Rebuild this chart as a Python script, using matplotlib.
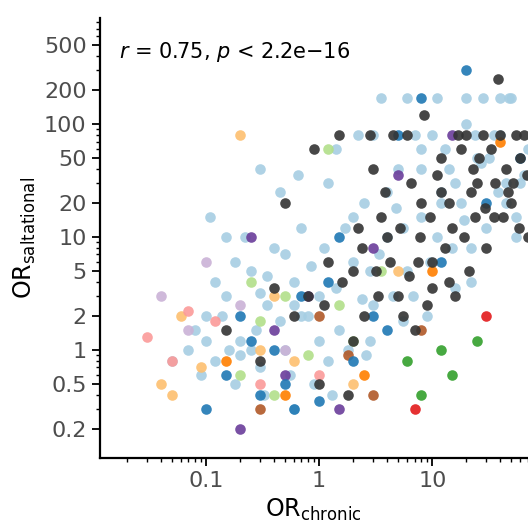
import matplotlib
matplotlib.use('Agg')
import matplotlib.pyplot as plt
from matplotlib.ticker import LogLocator, FixedLocator, NullFormatter

# Points (OR chronic, OR saltational), grouped by colour
light_blue_x = [0.08, 0.1, 0.12, 0.15, 0.2, 0.25, 0.3, 0.35, 0.4, 0.5, 0.6, 0.7, 0.8, 1.0, 1.2, 1.5, 2.0, 2.5, 3.0,
                4.0, 5.0, 6.0, 8.0, 10, 12, 15, 20, 25, 30, 40, 50, 60, 70, 0.05, 0.07, 0.09, 0.11, 0.14, 0.18,
                0.22, 0.28, 0.33, 0.45, 0.55, 0.65, 0.9, 1.1, 1.4, 1.8, 2.2, 2.8, 3.5, 4.5, 7.0, 9.0, 11, 14,
                18, 22, 28, 35, 45, 55, 0.15, 0.3, 0.6, 1.3, 2.6, 5.5, 16, 3.0, 6.0, 12, 24, 48, 8, 20, 40, 0.16,
                0.12, 0.18, 0.25, 0.35, 0.5, 0.7, 1.0, 1.4, 2.0, 2.8, 4.0, 5.5, 8.0, 11, 16, 22, 32, 45, 65,
                0.1, 0.2, 0.3, 0.45, 0.6, 0.85, 1.2, 1.7, 2.4, 3.4, 4.8, 6.8, 9.5, 13, 19, 27, 38, 55]
light_blue_y = [1.5, 2.0, 0.8, 3.0, 1.2, 5.0, 0.7, 2.5, 8.0, 1.0, 4.0, 12, 2.0, 3.0, 30, 1.5, 6.0, 20, 2.5,
                10, 40, 5.0, 15, 80, 25, 8.0, 170, 50, 12, 80, 170, 30, 60, 0.8, 1.0, 0.6, 15, 2.0, 0.5,
                10, 1.5, 0.4, 25, 0.6, 35, 0.5, 8.0, 60, 1.0, 80, 1.2, 170, 3.0, 80, 2.0, 170, 40,
                20, 4.0, 170, 80, 30, 15, 10, 40, 0.3, 0.4, 0.9, 1.8, 3.5, 80, 170, 20, 80, 170, 60, 100, 170, 1.0,
                4.0, 6.0, 1.0, 4.5, 7.0, 2.0, 1.2, 3.5, 15, 5.0, 25, 12, 40, 10, 30, 8.0, 50, 20, 35,
                1.2, 0.9, 3.2, 1.8, 2.5, 5.5, 0.8, 12, 2.8, 7.0, 18, 3.0, 6.0, 60, 14, 45, 25, 10]
grey_x = [0.15, 0.3, 0.5, 0.8, 1.0, 1.5, 2.0, 2.5, 3.0, 4.0, 5.0, 6.0, 7.0, 8.0, 10, 12, 15, 20, 25, 30, 40, 50, 60,
          70, 3.5, 4.5, 9.0, 11, 14, 18, 22, 28, 35, 45, 55, 0.6, 1.2, 2.2, 6.5, 13, 26, 52, 5.5, 17, 33, 1.8,
          0.4, 0.9, 2.8, 8.5, 38, 65, 7.5, 24, 3.2, 42, 16,
          1.1, 1.6, 2.4, 3.3, 4.2, 5.2, 6.2, 7.8, 9.5, 12, 14, 19, 23, 29, 36, 47, 58, 68, 2.0, 3.8, 10, 21]
grey_y = [1.5, 0.8, 20, 3.0, 0.5, 80, 5.0, 2.0, 40, 10, 3.0, 80, 1.5, 20, 6.0, 50, 12, 80, 30, 8.0, 80, 20, 50,
          10, 15, 80, 2.5, 35, 4.0, 60, 25, 80, 15, 40, 80, 2.0, 6.0, 12, 30, 8.0, 50, 30, 2.0, 80, 60, 0.4,
          3.5, 60, 80, 120, 250, 80, 6.0, 15, 5.0, 15, 3.0,
          2.5, 4.0, 8.0, 3.0, 6.0, 12, 4.5, 10, 15, 25, 20, 10, 40, 18, 30, 25, 12, 35, 1.2, 25, 3.5, 5.0]
blue_x = [0.1, 0.15, 0.2, 0.3, 0.4, 0.5, 0.7, 1.0, 1.5, 2.0, 3.0, 5.0, 8.0, 12, 20, 30, 0.25, 0.6, 1.2, 4.0, 60]
blue_y = [0.3, 0.6, 2.0, 0.4, 1.0, 0.5, 3.0, 0.35, 10, 0.8, 2.0, 80, 170, 6.0, 300, 20, 1.2, 0.3, 4.0, 1.5, 50]
light_green_x = [0.2, 0.3, 0.5, 0.8, 1.2, 2.0, 3.5, 0.4, 0.25, 1.5]
light_green_y = [0.6, 1.8, 3.0, 0.9, 60, 1.2, 5.0, 0.4, 4.0, 2.5]
green_x = [8.0, 15, 25, 12, 6.0]
green_y = [0.4, 0.6, 1.2, 1.0, 0.8]
pink_x = [0.03, 0.05, 0.07, 0.12, 0.3, 1.0]
pink_y = [1.3, 0.8, 2.2, 1.8, 0.5, 0.6]
red_x = [7.0, 30]
red_y = [0.3, 2.0]
light_orange_x = [0.04, 0.05, 0.06, 0.09, 0.2, 0.3, 0.4, 0.6, 2.0, 5.0]
light_orange_y = [0.5, 0.4, 2.0, 0.7, 80, 1.0, 3.0, 0.8, 0.5, 5.0]
orange_x = [0.15, 0.5, 2.5, 10, 40]
orange_y = [0.8, 0.4, 0.6, 5.0, 70]
lavender_x = [0.04, 0.07, 0.1, 0.2, 0.5]
lavender_y = [3.0, 1.5, 6.0, 2.5, 1.0]
purple_x = [0.2, 0.25, 0.5, 0.8, 1.5, 3.0, 5.0, 15, 0.4]
purple_y = [0.2, 10, 0.6, 3.0, 0.3, 8.0, 35, 80, 1.5]
brown_x = [0.3, 1.0, 3.0, 8.0, 1.8]
brown_y = [0.3, 2.0, 0.4, 1.5, 0.9]

groups = [
    (light_blue_x, light_blue_y, '#A6CEE3'),
    (light_orange_x, light_orange_y, '#FDBF6F'),
    (lavender_x, lavender_y, '#CAB2D6'),
    (pink_x, pink_y, '#FB9A99'),
    (light_green_x, light_green_y, '#B2DF8A'),
    (purple_x, purple_y, '#6A3D9A'),
    (brown_x, brown_y, '#B15928'),
    (orange_x, orange_y, '#FF7F00'),
    (blue_x, blue_y, '#1F78B4'),
    (green_x, green_y, '#33A02C'),
    (red_x, red_y, '#E31A1C'),
    (grey_x, grey_y, '#333333'),
]

fig = plt.figure(figsize=(5.28, 5.30), dpi=100)
ax = fig.add_axes([0.189, 0.136, 0.811, 0.83])

for xs, ys, col in groups:
    ax.scatter(xs, ys, s=58, color=col, alpha=0.9, linewidths=0, zorder=2)

ax.set_xscale('log')
ax.set_yscale('log')
ax.set_xlim(0.0116, 70)
ax.set_ylim(0.11, 870)

xt = [0.1, 1, 10, 100]
yt = [0.2, 0.5, 1, 2, 5, 10, 20, 50, 100, 200, 500]
ax.xaxis.set_major_locator(FixedLocator(xt))
ax.set_xticklabels(['0.1', '1', '10', '100'])
ax.yaxis.set_major_locator(FixedLocator(yt))
ax.set_yticklabels([('%g' % v) for v in yt])
ax.xaxis.set_minor_locator(LogLocator(base=10, subs=range(2, 10)))
ax.yaxis.set_minor_locator(LogLocator(base=10, subs=range(1, 10)))
ax.xaxis.set_minor_formatter(NullFormatter())
ax.yaxis.set_minor_formatter(NullFormatter())

for s in ['top', 'right']:
    ax.spines[s].set_visible(False)
for s in ['left', 'bottom']:
    ax.spines[s].set_linewidth(1.6)
ax.tick_params(which='major', length=6, width=1.3, labelsize=16, colors='black', labelcolor='#4D4D4D')
ax.tick_params(which='minor', length=3, width=1.0)

ax.set_xlabel('OR$_{\\mathregular{chronic}}$', fontsize=17)
ax.set_ylabel('OR$_{\\mathregular{saltational}}$', fontsize=17)
ax.text(0.045, 0.95, '$r$ = 0.75, $p$ < 2.2e\u221216', transform=ax.transAxes,
        fontsize=15, va='top')

plt.savefig('out.png', dpi=100)
